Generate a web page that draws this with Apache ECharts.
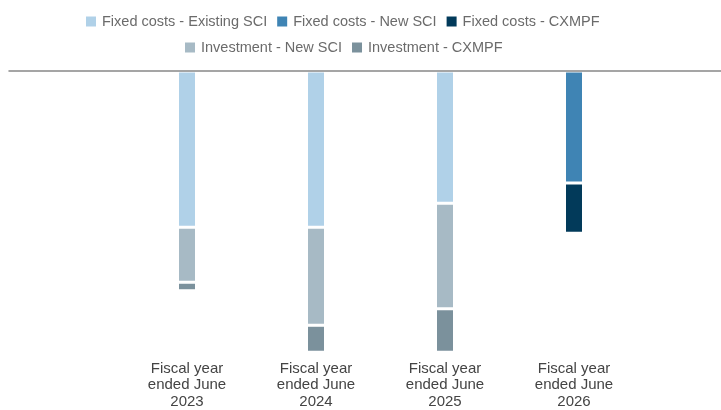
<!DOCTYPE html>
<html>
<head>
<meta charset="utf-8">
<script src="https://cdn.jsdelivr.net/npm/echarts@6/dist/echarts.min.js"></script>
<style>
  html, body { margin: 0; padding: 0; background: #fff; }
  #chart { width: 721px; height: 410px; }
</style>
</head>
<body>
<div id="chart"></div>
<script>
// values (arbitrary units, bars hang down from the top line)
var years = ["Fiscal year\nended June\n2023", "Fiscal year\nended June\n2024", "Fiscal year\nended June\n2025", "Fiscal year\nended June\n2026"];
var fixedExistingSCI = [155.5, 155.5, 131.5, 0];
var fixedNewSCI = [0, 0, 0, 111.5];
var fixedCXMPF = [0, 0, 0, 50];
var investNewSCI = [54.5, 97.5, 105, 0];
var investCXMPF = [8.5, 29.5, 46, 0];

var names = ["Fixed costs - Existing SCI", "Fixed costs - New SCI", "Fixed costs - CXMPF", "Investment - New SCI", "Investment - CXMPF"];
var colors = ["#b0d1e8", "#3f84b4", "#023a5a", "#a7bac5", "#7b919c"];
var values = [fixedExistingSCI, fixedNewSCI, fixedCXMPF, investNewSCI, investCXMPF];

var chart = echarts.init(document.getElementById("chart"));

var series = values.map(function (v, i) {
    return {
        name: names[i],
        type: "bar",
        stack: "total",
        xAxisIndex: 0,
        yAxisIndex: 0,
        barWidth: 19,
        data: v.map(function (d) { return d === 0 ? null : d; }),
        itemStyle: { color: colors[i], borderColor: "#fff", borderWidth: 1.5 }
    };
});

var legendText = { color: "#6b6b6b", fontSize: 14.5, fontFamily: "Liberation Sans, Arial, sans-serif" };

var option = {
    animation: false,
    color: colors,
    legend: [{
        data: names.slice(0, 3),
        top: 9,
        left: 79,
        itemWidth: 12,
        itemHeight: 12,
        itemGap: 8,
        icon: "rect",
        textStyle: legendText
    }, {
        data: names.slice(3),
        top: 35,
        left: 178,
        itemWidth: 12,
        itemHeight: 12,
        itemGap: 8,
        icon: "rect",
        textStyle: legendText
    }],
    grid: [
        { left: 122.5, right: 82.5, top: 71, height: 284 },
        { left: 9, right: 0, top: 71, height: 10 }
    ],
    xAxis: [{
        type: "category",
        gridIndex: 0,
        data: years,
        axisLine: { show: false },
        axisTick: { show: false },
        axisLabel: {
            margin: 9,
            color: "#444",
            fontSize: 15,
            lineHeight: 16.5,
            fontFamily: "Liberation Sans, Arial, sans-serif"
        }
    }, {
        type: "value",
        gridIndex: 1,
        position: "top",
        z: 10,
        axisLine: { show: true, onZero: false, lineStyle: { color: "#888", width: 1.5 } },
        axisTick: { show: false },
        axisLabel: { show: false },
        splitLine: { show: false }
    }],
    yAxis: [{
        type: "value",
        gridIndex: 0,
        inverse: true,
        min: 0,
        max: 279,
        show: false
    }, {
        type: "value",
        gridIndex: 1,
        show: false
    }],
    series: series
};

chart.setOption(option);
</script>
</body>
</html>
